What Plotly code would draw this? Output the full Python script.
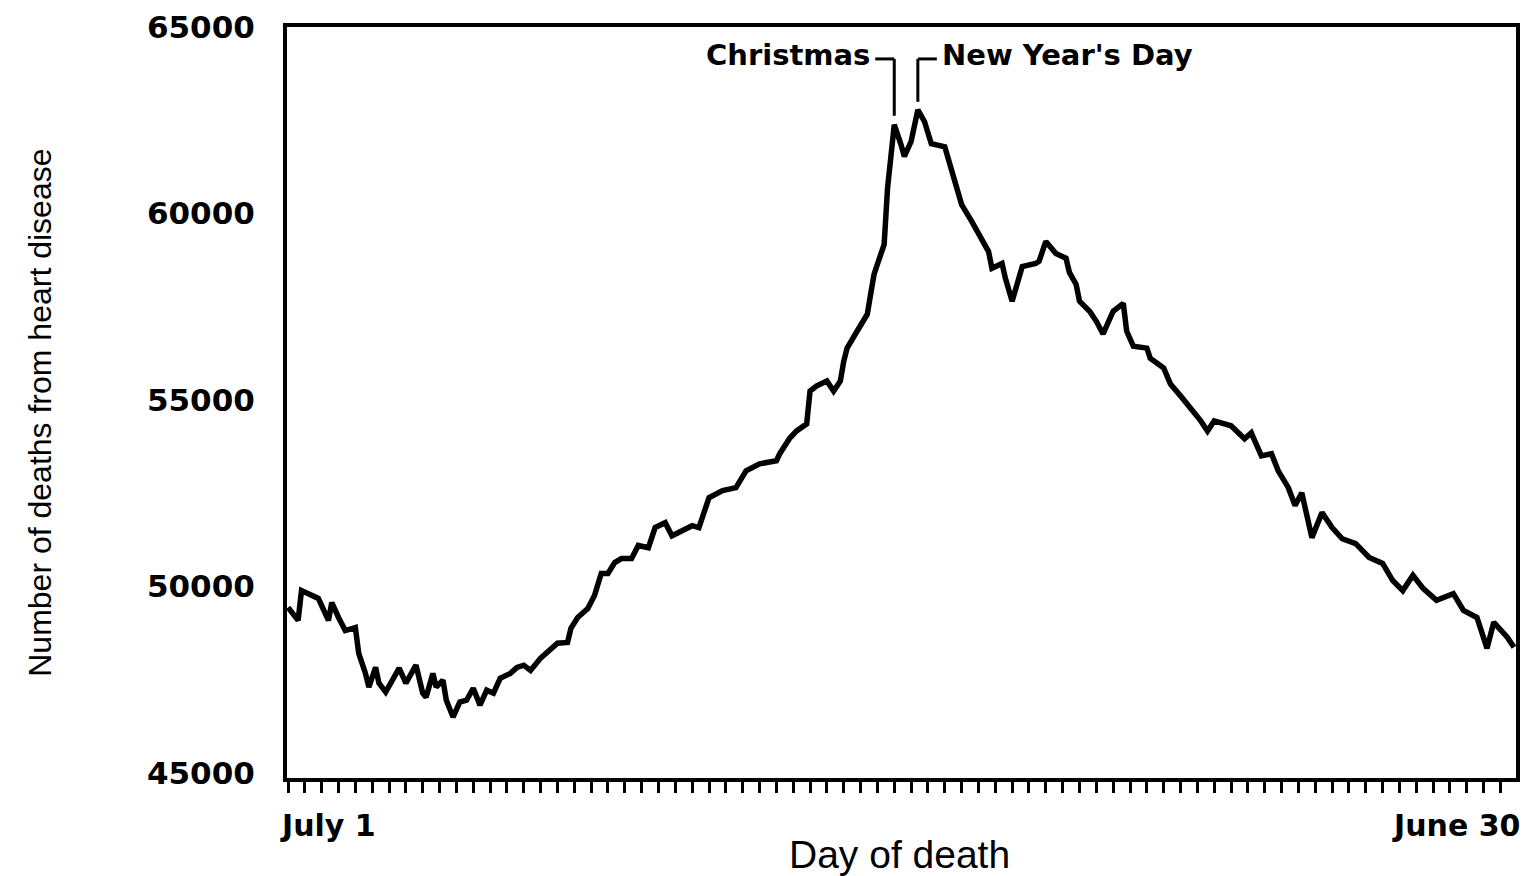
import plotly.graph_objects as go

# ---------------- data ----------------
# day index from July 1 (0) to June 30 (364)
days = [0, 3, 4, 7, 9, 12, 13, 15, 17, 20, 21, 23, 24, 26, 27, 29, 31, 33, 35, 38,
        40, 41, 43, 44, 46, 47, 49, 51, 53, 55, 57, 59, 61, 63, 66, 68, 70, 72, 75, 77,
        80, 83, 84, 86, 89, 91, 93, 95, 97, 99, 102, 104, 107, 109, 112, 114, 117, 120, 122, 125,
        129, 133, 136, 140, 145, 146, 149, 151, 154, 155, 157, 160, 162, 164, 165, 166, 169, 172, 173, 174,
        175, 177, 178, 179, 180, 182, 183, 185, 187, 189, 191, 195, 197, 198, 200, 203, 205, 208, 209, 212,
        213, 215, 218, 222, 223, 225, 228, 231, 232, 234, 235, 238, 240, 242, 245, 248, 249, 251, 255, 256,
        260, 262, 265, 268, 271, 273, 275, 280, 284, 286, 289, 292, 294, 297, 299, 301, 304, 307, 310, 313,
        317, 321, 325, 328, 331, 334, 337, 341, 346, 349, 353, 356, 358, 362, 364]
deaths = [49440, 49090, 49890, 49760, 49680, 49090, 49570, 49170, 48820, 48900, 48210, 47670, 47300, 47830, 47410, 47170, 47490, 47810, 47410, 47890,
          47140, 47030, 47670, 47300, 47490, 46950, 46500, 46900, 46950, 47270, 46820, 47220, 47140, 47540, 47670, 47830, 47890, 47750, 48080, 48240,
          48480, 48500, 48880, 49170, 49410, 49760, 50350, 50350, 50640, 50750, 50750, 51100, 51040, 51580, 51710, 51360, 51500, 51630, 51580, 52380,
          52570, 52650, 53100, 53290, 53370, 53560, 53980, 54170, 54360, 55240, 55380, 55510, 55240, 55510, 56040, 56390, 56850, 57300, 57840, 58370,
          58640, 59170, 60670, 61580, 62380, 61850, 61530, 61930, 62780, 62460, 61870, 61790, 61120, 60860, 60240, 59790, 59440, 58980, 58530, 58660,
          58260, 57650, 58580, 58660, 58720, 59250, 58930, 58800, 58420, 58100, 57650, 57380, 57110, 56770, 57380, 57590, 56850, 56440, 56390, 56120,
          55860, 55430, 55110, 54790, 54440, 54170, 54440, 54310, 53960, 54120, 53500, 53560, 53100, 52650, 52170, 52510, 51310, 51980, 51580, 51280,
          51150, 50780, 50620, 50160, 49890, 50300, 49950, 49630, 49810, 49360, 49170, 48340, 49040, 48640, 48370]

y_ticks = [45000, 50000, 55000, 60000, 65000]
x_tick_days = list(range(0, 365, 5))
start_label = "July 1"
end_label = "June 30"
christmas_label = "Christmas"
newyear_label = "New Year's Day"

# ---------------- layout geometry ----------------
W, H = 1529, 876
L, R, T, B = 287, 1520, 25, 778          # plot-area pixel edges
x_range = [-0.3, 364.6]
y_range = [44866, 65000]


def px_x(px):            # pixel -> paper x
    return (px - L) / (R - L)


def px_y(py):            # pixel -> paper y
    return (B - py) / (B - T)


def yval(py):            # pixel -> data y
    return y_range[0] + (B - py) / (B - T) * (y_range[1] - y_range[0])


# peaks marked by the labels
def peak_day(lo, hi):
    return max((d for d in days if lo <= d <= hi), key=lambda d: deaths[days.index(d)])


xmas_day = peak_day(176, 183)
ny_day = peak_day(184, 190)

fig = go.Figure()
fig.add_trace(go.Scatter(x=days, y=deaths, mode="lines",
                         line=dict(color="black", width=5.5), hoverinfo="skip"))

bold = dict(family="DejaVu Sans", weight="bold", color="black")

fig.update_layout(
    width=W, height=H,
    margin=dict(l=L, r=W - R, t=T, b=H - B),
    paper_bgcolor="white", plot_bgcolor="white",
    showlegend=False,
    xaxis=dict(range=x_range, tickvals=x_tick_days, ticktext=[""] * len(x_tick_days),
               ticks="outside", ticklen=11, tickwidth=3, tickcolor="black",
               showline=True, linewidth=4, linecolor="black", mirror=True,
               showgrid=False, zeroline=False),
    yaxis=dict(range=y_range, tickvals=y_ticks, tickformat="d", ticks="",
               tickfont=dict(size=31, **bold), ticklabelstandoff=22,
               showline=True, linewidth=4, linecolor="black", mirror=True,
               showgrid=False, zeroline=False),
)

# x end labels
fig.add_annotation(text=start_label, xref="paper", yref="paper", x=px_x(278), y=px_y(826),
                   xanchor="left", yanchor="middle", showarrow=False, font=dict(size=30, **bold))
fig.add_annotation(text=end_label, xref="paper", yref="paper", x=px_x(1526), y=px_y(826),
                   xanchor="right", yanchor="middle", showarrow=False, font=dict(size=30, **bold))

# axis titles
fig.add_annotation(text="Day of death", xref="paper", yref="paper", x=px_x(901), y=px_y(855),
                   xanchor="center", yanchor="middle", showarrow=False,
                   font=dict(family="Liberation Sans", size=39, color="black"))
fig.add_annotation(text="Number of deaths from heart disease", xref="paper", yref="paper",
                   x=px_x(39), y=px_y(412), xanchor="center", yanchor="middle", textangle=-90,
                   showarrow=False,
                   font=dict(family="Liberation Sans", size=32, color="black"))

# holiday labels with bracket lines
bracket_y = yval(57)
fig.add_annotation(text=christmas_label, xref="x", yref="paper", x=xmas_day, y=px_y(53),
                   xanchor="right", yanchor="middle", xshift=-22, showarrow=False,
                   font=dict(size=29, **bold))
fig.add_annotation(text=newyear_label, xref="x", yref="paper", x=ny_day, y=px_y(53),
                   xanchor="left", yanchor="middle", xshift=22, showarrow=False,
                   font=dict(size=29, **bold))
line_style = dict(color="black", width=3)
fig.add_shape(type="line", xref="x", yref="y", x0=xmas_day, x1=xmas_day,
              y0=bracket_y, y1=yval(114), line=line_style)
fig.add_shape(type="line", xref="x", yref="y", xsizemode="pixel", xanchor=xmas_day,
              x0=-19, x1=0, y0=bracket_y, y1=bracket_y, line=line_style)
fig.add_shape(type="line", xref="x", yref="y", x0=ny_day, x1=ny_day,
              y0=bracket_y, y1=yval(100), line=line_style)
fig.add_shape(type="line", xref="x", yref="y", xsizemode="pixel", xanchor=ny_day,
              x0=0, x1=19, y0=bracket_y, y1=bracket_y, line=line_style)

fig.write_html("out.html",
               config={"displayModeBar": False},
               post_script="document.body.style.margin='0';document.body.style.overflow='hidden';")
